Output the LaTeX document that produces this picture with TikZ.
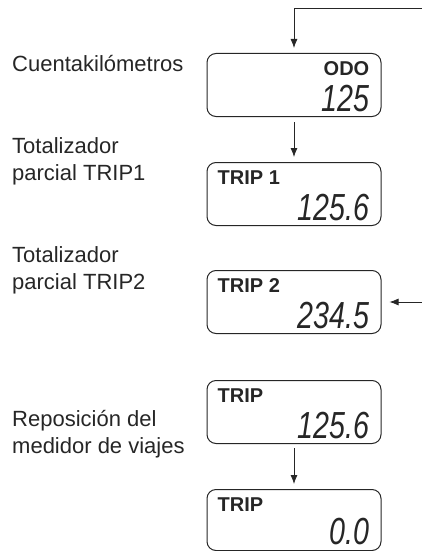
\documentclass[tikz,border=0pt]{standalone}
\usepackage{fontspec}
\setmainfont{Liberation Sans}
\usetikzlibrary{arrows.meta}
\newcommand{\lcdnum}[1]{{\fontsize{37.7}{38}\selectfont\itshape\scalebox{0.76}[1]{#1}}}
\begin{document}
\begin{tikzpicture}[x=1pt, y=-1pt, >={Latex[length=9pt,width=7pt]}, black!85,
        lcd/.style={draw, line width=1pt, rounded corners=9pt, minimum width=174pt, minimum height=63pt, inner sep=0pt},
        caption/.style={anchor=base west, align=left, inner sep=0pt, font=\fontsize{22}{27}\selectfont},
        mode/.style={inner sep=0pt, font=\fontsize{20}{20}\selectfont\bfseries},
        reading/.style={inner sep=0pt, anchor=base east}]
        \useasboundingbox (0,0) rectangle (422,551);
        \node[caption] (codo) at (12,71) {Cuentakilómetros};
        \node[caption] (ctrip1) at (12,180) {Totalizador\\parcial TRIP1};
        \node[caption] (ctrip2) at (12,289) {Totalizador\\parcial TRIP2};
        \node[caption] (creset) at (12,453) {Reposición del\\medidor de viajes};
        \node[lcd] (odo) at (294,85) {};
        \node[lcd] (trip1) at (294,194) {};
        \node[lcd] (trip2) at (294,302) {};
        \node[lcd] (tripa) at (294,412) {};
        \node[lcd, minimum height=61pt] (tripb) at (294,520) {};
        \node[mode, anchor=base east] (modo) at ([xshift=-12pt,yshift=-22.5pt]odo.north east) {ODO};
        \node[mode, anchor=base west] (mtrip1) at ([xshift=11pt,yshift=-22pt]trip1.north west) {TRIP 1};
        \node[mode, anchor=base west] (mtrip2) at ([xshift=11pt,yshift=-22pt]trip2.north west) {TRIP 2};
        \node[mode, anchor=base west] (mtripa) at ([xshift=11pt,yshift=-22pt]tripa.north west) {TRIP};
        \node[mode, anchor=base west] (mtripb) at ([xshift=11pt,yshift=-22pt]tripb.north west) {TRIP};
        \node[reading] (rodo) at ([xshift=-12pt,yshift=6pt]odo.south east) {\lcdnum{125}};
        \node[reading] (rtrip1) at ([xshift=-12pt,yshift=6pt]trip1.south east) {\lcdnum{125.6}};
        \node[reading] (rtrip2) at ([xshift=-12pt,yshift=6pt]trip2.south east) {\lcdnum{234.5}};
        \node[reading] (rtripa) at ([xshift=-12pt,yshift=6pt]tripa.south east) {\lcdnum{125.6}};
        \node[reading] (rtripb) at ([xshift=-12pt,yshift=7pt]tripb.south east) {\lcdnum{0.0}};
        \coordinate (feed) at (422,8);
        \coordinate (hold) at (422,302);
        \draw[->, line width=0.8pt] (feed) -| ([yshift=5pt]odo.north);
        \draw[->, line width=0.8pt] ([yshift=-5pt]odo.south) -- ([yshift=5pt]trip1.north);
        \draw[->, line width=0.8pt] (hold) -- ([xshift=8pt]trip2.east);
        \draw[->, line width=0.8pt] ([yshift=-4pt]tripa.south) -- ([yshift=5pt]tripb.north);
    \end{tikzpicture}
\end{document}
